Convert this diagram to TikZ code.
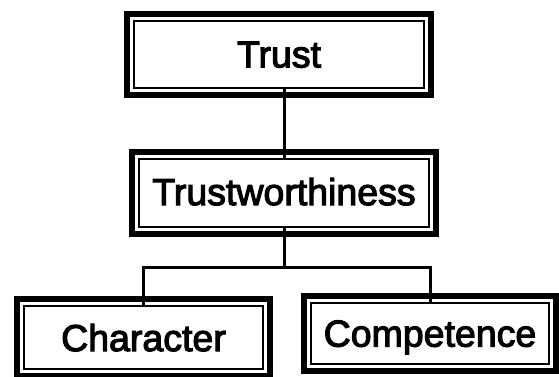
\documentclass[tikz,border=0pt]{standalone}
\usepackage{fontspec}
\newfontfamily\lab{Liberation Sans}[FakeBold=3]
\tikzset{
  x=1pt, y=1pt,
  box/.style={draw, line width=2.2pt, rectangle, inner sep=0pt, text depth=0pt,
    font=\lab\fontsize{37.5}{40}\selectfont},
  frame/.style={line width=6.5pt},
  link/.style={line width=3pt}
}
\newcommand{\outerframe}[1]{\draw[frame] ([shift={(-5.8,5.8)}]#1.north west) rectangle ([shift={(5.8,-5.8)}]#1.south east);}
\begin{document}
\begin{tikzpicture}
\useasboundingbox (0,0) rectangle (559,377);
\node[box, minimum width=290, minimum height=67] (t) at (279,322.5) {Trust};
\node[box, minimum width=290, minimum height=68] (tw) at (284,184) {\raisebox{3pt}{Trustworthiness}};
\node[box, minimum width=239, minimum height=63] (ch) at (143.5,39.5) {Character};
\node[box, minimum width=238, minimum height=61] (co) at (430,43.5) {Competence};
\outerframe{t}
\outerframe{tw}
\outerframe{ch}
\outerframe{co}
\coordinate (j) at (284,109);
\draw[link] (tw.north) -- (tw.north |- t.south);
\draw[link] (tw.south) -- (j);
\draw[link] (ch.north) |- (j) -| (co.north);
\end{tikzpicture}
\end{document}
